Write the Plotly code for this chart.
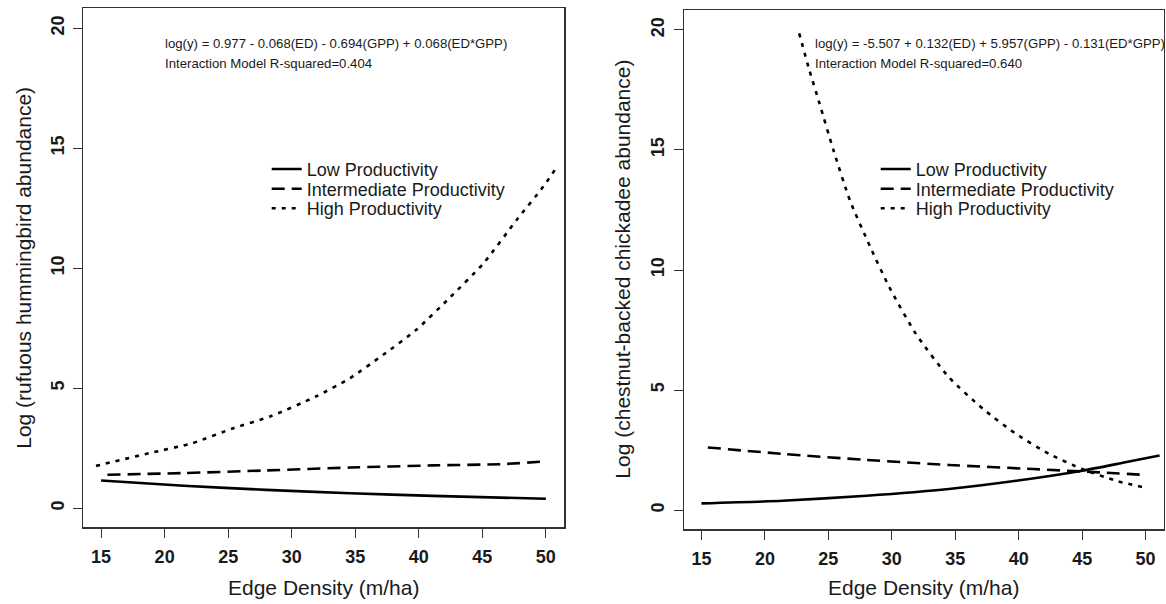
import plotly.graph_objects as go

# ---------------- data ----------------
tick_x = [15, 20, 25, 30, 35, 40, 45, 50]
tick_y = [0, 5, 10, 15, 20]

series_names = ["Low Productivity", "Intermediate Productivity", "High Productivity"]

# Left panel: rufous hummingbird
hum_low_x = [15.0, 21.5, 28.0, 34.6, 41.1, 50.0]
hum_low_y = [1.15, 0.93, 0.76, 0.62, 0.51, 0.39]
hum_int_x = [15.5, 21.5, 28.0, 34.6, 41.1, 46.4, 49.8]
hum_int_y = [1.39, 1.46, 1.57, 1.69, 1.78, 1.83, 1.94]
hum_high_x = [14.6, 18.8, 22.2, 25.4, 28.3, 31.9, 34.6, 37.2, 39.8, 42.4, 45.1, 47.7, 49.8, 50.8]
hum_high_y = [1.76, 2.29, 2.71, 3.33, 3.82, 4.65, 5.42, 6.39, 7.43, 8.75, 10.21, 12.01, 13.40, 14.17]

# Right panel: chestnut-backed chickadee
chk_low_x = [15.0, 21.4, 28.0, 34.5, 39.8, 45.0, 48.4, 51.1]
chk_low_y = [0.28, 0.39, 0.60, 0.88, 1.22, 1.64, 1.99, 2.27]
chk_int_x = [15.5, 21.4, 28.0, 34.5, 41.1, 46.4, 49.8]
chk_int_y = [2.61, 2.34, 2.09, 1.88, 1.71, 1.57, 1.47]
chk_high_x = [22.7, 23.5, 24.3, 25.4, 26.7, 28.3, 29.8, 31.9, 34.5, 37.2, 39.8, 42.4, 45.0, 47.7, 49.9]
chk_high_y = [19.86, 18.33, 16.94, 14.99, 12.90, 10.96, 9.29, 7.34, 5.53, 4.21, 3.17, 2.34, 1.71, 1.22, 0.94]

eq_left = ["log(y) = 0.977 - 0.068(ED) - 0.694(GPP) + 0.068(ED*GPP)",
           "Interaction Model R-squared=0.404"]
eq_right = ["log(y) = -5.507 + 0.132(ED) + 5.957(GPP) - 0.131(ED*GPP)",
            "Interaction Model R-squared=0.640"]
xtitle = "Edge Density (m/ha)"
ytitle_left = "Log (rufuous hummingbird abundance)"
ytitle_right = "Log (chestnut-backed chickadee abundance)"

# ---------------- styling ----------------
W, H = 1166, 604
FONT = "Liberation Sans, Arial, sans-serif"
INK = "#1a1a1a"
AX = "#333333"
dashes = ["solid", "13px,7px", "4px,6px"]
LW = 2.6

def px_x(p):
    return p / W

def px_y(p):
    return 1 - p / H

fig = go.Figure()

panels = [
    ("x", "y", [(hum_low_x, hum_low_y), (hum_int_x, hum_int_y), (hum_high_x, hum_high_y)],
     ["legend", "legend2", "legend3"]),
    ("x2", "y2", [(chk_low_x, chk_low_y), (chk_int_x, chk_int_y), (chk_high_x, chk_high_y)],
     ["legend4", "legend5", "legend6"]),
]
for xa, ya, data, legs in panels:
    for i, (xs, ys) in enumerate(data):
        fig.add_trace(go.Scatter(
            x=xs, y=ys, mode="lines", name=series_names[i],
            xaxis=xa, yaxis=ya, legend=legs[i],
            line=dict(color="black", width=LW, dash=dashes[i], shape="spline", smoothing=0.6),
            showlegend=True, hoverinfo="skip",
        ))

axis_common = dict(
    showline=True, mirror=True, linecolor=AX, linewidth=1.2,
    ticks="outside", ticklen=9, tickwidth=1, tickcolor=AX,
    showgrid=False, zeroline=False,
    tickfont=dict(family=FONT, size=18, color=INK, weight="bold"),
)
xr = [13.6, 51.45]
yr = [-0.8, 20.83]

layout = dict(
    width=W, height=H, template="none",
    paper_bgcolor="white", plot_bgcolor="white",
    margin=dict(l=0, r=0, t=0, b=0),
    xaxis=dict(domain=[px_x(83.3), px_x(564.3)], anchor="y", range=xr, ticklabelstandoff=4,
               tickvals=tick_x, ticktext=[str(v) for v in tick_x], **axis_common),
    yaxis=dict(domain=[px_y(527.3), px_y(8.3)], anchor="x", range=yr, ticklabelstandoff=2,
               tickvals=tick_y, ticktext=[str(v) for v in tick_y], tickangle=-90, **axis_common),
    xaxis2=dict(domain=[px_x(683.7), px_x(1164.0)], anchor="y2", range=xr, ticklabelstandoff=4,
                tickvals=tick_x, ticktext=[str(v) for v in tick_x], **axis_common),
    yaxis2=dict(domain=[px_y(529.3), px_y(10.0)], anchor="x2", range=yr, ticklabelstandoff=2,
                tickvals=tick_y, ticktext=[str(v) for v in tick_y], tickangle=-90, **axis_common),
    showlegend=True,
)

# one legend per row so the row spacing matches the reference
leg_rows = [169.3, 189.0, 208.5]
leg_font = dict(family=FONT, size=18, color=INK)
for k, (lx, names) in enumerate([(264.7, ["legend", "legend2", "legend3"]),
                                   (873.7, ["legend4", "legend5", "legend6"])]):
    for r, nm in enumerate(names):
        layout[nm] = dict(x=px_x(lx + 2), y=px_y(leg_rows[r]), xanchor="left", yanchor="middle",
                          xref="paper", yref="paper", bgcolor="rgba(0,0,0,0)", borderwidth=0,
                          font=leg_font, itemclick=False, itemdoubleclick=False)

fig.update_layout(**layout)

ann = []
eq_font = dict(family=FONT, size=13.2, color=INK)
for lines, x0, ys in [(eq_left, 162.7, [43.5, 63.0]), (eq_right, 813.0, [43.3, 64.0])]:
    for t, yy in zip(lines, ys):
        ann.append(dict(text=t, x=px_x(x0), y=px_y(yy), xref="paper", yref="paper",
                        xanchor="left", yanchor="middle", showarrow=False, font=eq_font))

title_font = dict(family=FONT, size=21, color=INK)
for cx in [(83.3 + 564.3) / 2, (683.7 + 1164.0) / 2]:
    ann.append(dict(text=xtitle, x=px_x(cx), y=px_y(587), xref="paper", yref="paper",
                    xanchor="center", yanchor="middle", showarrow=False, font=title_font))
for t, cx, cy in [(ytitle_left, 24, (8.3 + 527.3) / 2), (ytitle_right, 623, (10 + 529.3) / 2)]:
    ann.append(dict(text=t, x=px_x(cx), y=px_y(cy), xref="paper", yref="paper",
                    xanchor="center", yanchor="middle", textangle=-90, showarrow=False,
                    font=title_font))
fig.update_layout(annotations=ann)

fig.write_html(
    "out.html",
    config={"displayModeBar": False, "staticPlot": True},
    post_script="document.body.style.margin='0';document.body.style.overflow='hidden';",
)
